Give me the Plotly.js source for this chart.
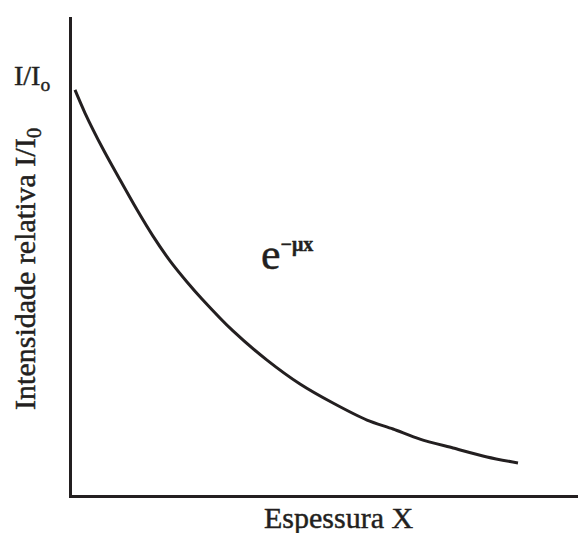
<!DOCTYPE html>
<html>
<head>
<meta charset="utf-8">
<script src="https://cdn.plot.ly/plotly-3.0.1.min.js"></script>
<style>
html,body{margin:0;padding:0;background:#fff;}
#chart{width:579px;height:533px;}
/* slightly heavier strokes for the printed-style labels */
#chart .annotation-text{stroke:#231f20;stroke-width:0.45px;}
</style>
</head>
<body>
<div id="chart"></div>
<script>
// Thickness (arbitrary units) and relative transmitted intensity I/I0
const thickness = [0.059, 0.257, 0.613, 0.949, 1.285, 1.601, 1.937, 2.273, 2.569, 3.182, 3.854, 4.506, 5.158, 5.830, 6.344, 6.877, 7.530, 8.202, 8.814];
const intensity = [1.000, 0.943, 0.854, 0.778, 0.704, 0.639, 0.578, 0.526, 0.484, 0.405, 0.333, 0.274, 0.227, 0.185, 0.163, 0.138, 0.116, 0.094, 0.079];

const serif = 'Liberation Serif, Times New Roman, serif';
const ink = '#231f20';

const trace = {
  x: thickness,
  y: intensity,
  mode: 'lines',
  line: {color: ink, width: 3, shape: 'spline', smoothing: 0.8},
  cliponaxis: false,
  hoverinfo: 'skip'
};

// labels are centred on their anchor points
function label(x, y, text, size, extra) {
  return Object.assign({xref: 'paper', yref: 'paper', x: x, y: y, text: text,
    xanchor: 'center', yanchor: 'middle', showarrow: false,
    font: {family: serif, size: size, color: ink}}, extra || {});
}

const layout = {
  width: 579,
  height: 533,
  margin: {l: 72, r: 1, t: 17, b: 38},
  paper_bgcolor: '#fff',
  plot_bgcolor: '#fff',
  showlegend: false,
  font: {family: serif, color: ink},
  xaxis: {range: [0, 10], showline: true, linewidth: 3, linecolor: ink, showgrid: false,
          zeroline: false, showticklabels: false, ticks: ''},
  yaxis: {range: [0, 1.18], showline: true, linewidth: 3, linecolor: ink, showgrid: false,
          zeroline: false, showticklabels: false, ticks: ''},
  annotations: [
    label(-0.088, 0.474, 'Intensidade relativa I/I<sub>0</sub>', 30, {textangle: -90}),
    label(-0.079, 0.874, 'I/I<sub>o</sub>', 28),
    label(0.526, -0.048, 'Espessura X', 30),
    label(0.424, 0.504, 'e<sup><span style="font-size:20px;font-weight:bold">−μx</span></sup>', 44)
  ]
};

Plotly.newPlot('chart', [trace], layout, {staticPlot: true, displayModeBar: false});
</script>
</body>
</html>
